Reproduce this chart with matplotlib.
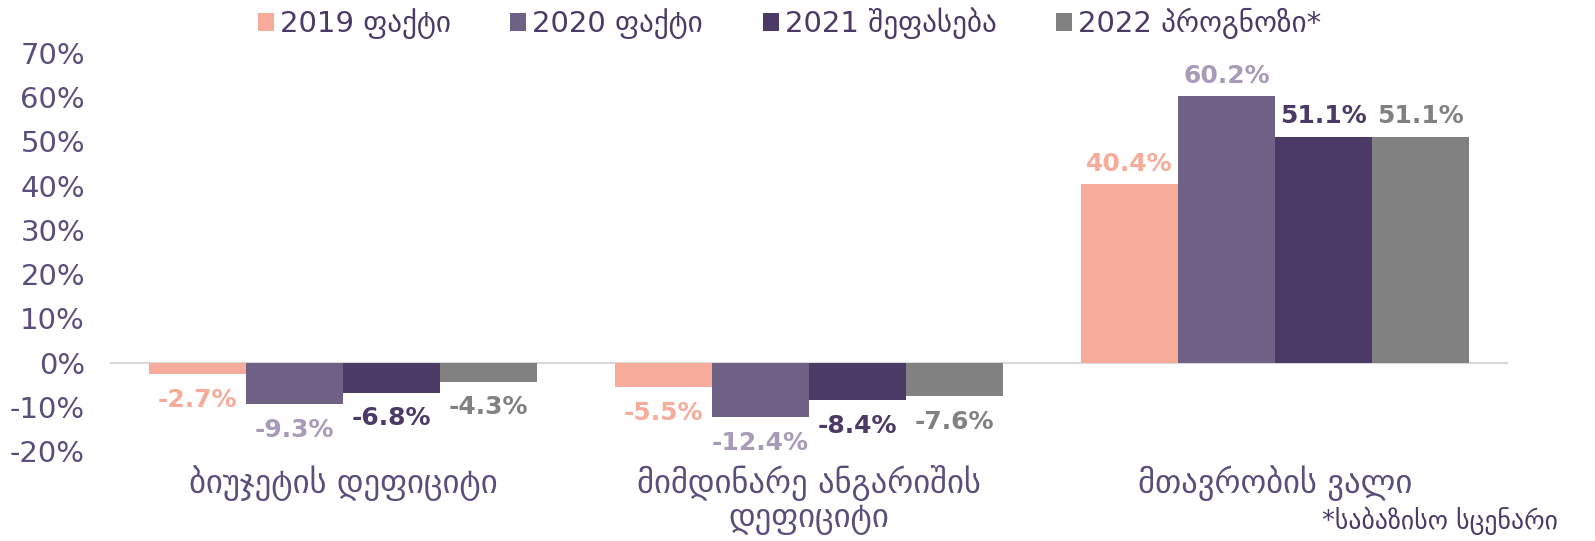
import numpy as np
import matplotlib.pyplot as plt
from matplotlib.ticker import PercentFormatter

plt.rcParams['font.family'] = ['DejaVu Sans']
plt.rcParams['axes.unicode_minus'] = False

# data
categories = ['ბიუჯეტის დეფიციტი', 'მიმდინარე ანგარიშის\nდეფიციტი', 'მთავრობის ვალი']
series_names = ['2019 ფაქტი', '2020 ფაქტი', '2021 შეფასება', '2022 პროგნოზი*']
v2019 = [-2.7, -5.5, 40.4]
v2020 = [-9.3, -12.4, 60.2]
v2021 = [-6.8, -8.4, 51.1]
v2022 = [-4.3, -7.6, 51.1]
series = [v2019, v2020, v2021, v2022]

bar_colors = ['#F7AC9B', '#6F6086', '#4B3A66', '#818182']
label_colors = ['#F7AC9B', '#A89BB8', '#4B3A66', '#818182']
txt_color = '#5B4E7A'

fig = plt.figure(figsize=(15.95, 5.41), dpi=100)
ax = fig.add_axes([0.069, 0.1664, 0.8765, 0.7356])

x = np.arange(len(categories))
w = 0.2085
for i, vals in enumerate(series):
    pos = x + (i - 1.5) * w
    bars = ax.bar(pos, vals, w, color=bar_colors[i], label=series_names[i], zorder=2)
    for b, v in zip(bars, vals):
        off = 6 if v >= 0 else -10
        ax.annotate(f'{v:.1f}%', (b.get_x() + b.get_width() / 2, v),
                    xytext=(0, off), textcoords='offset points',
                    ha='center', va='bottom' if v >= 0 else 'top',
                    fontsize=18, fontweight='bold', color=label_colors[i])

ax.axhline(0, color='#D9D9D9', lw=1.5, zorder=1)
ax.set_xlim(-0.5, 2.5)
ax.set_ylim(-20, 70)
ax.set_yticks(np.arange(-20, 71, 10))
ax.yaxis.set_major_formatter(PercentFormatter(decimals=0))
ax.set_xticks(x)
ax.set_xticklabels(categories, linespacing=1.0)
ax.tick_params(axis='y', length=0, pad=18, labelsize=21, labelcolor=txt_color)
ax.tick_params(axis='x', length=0, pad=10, labelsize=23.5, labelcolor=txt_color)
for s in ax.spines.values():
    s.set_visible(False)

fig.legend(loc='center', bbox_to_anchor=(0.495, 0.957), ncol=4, frameon=False,
           fontsize=21, labelcolor='#4B3A66', handlelength=0.55, handleheight=0.55,
           handletextpad=0.2, columnspacing=2.05)

fig.text(0.977, 0.038, '*საბაზისო სცენარი', ha='right', va='center',
         fontsize=18.5, color='#4B3A66')

fig.savefig('out.png', dpi=100)
